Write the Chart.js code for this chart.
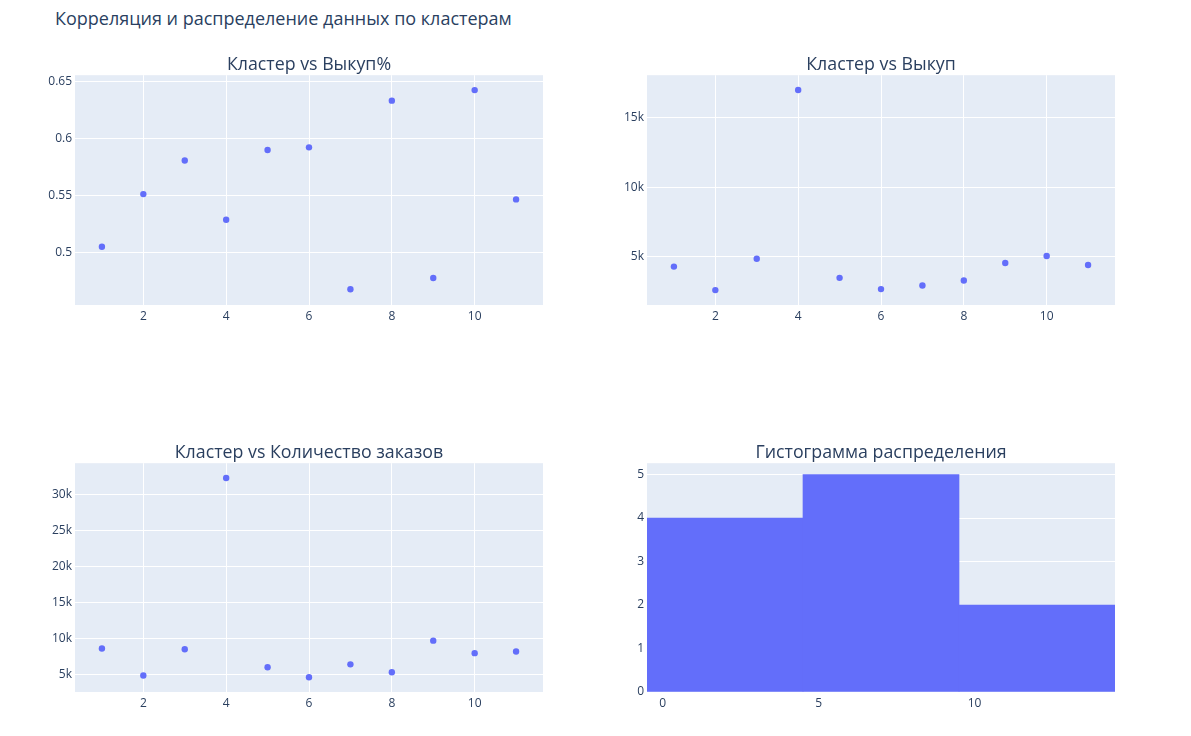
<!DOCTYPE html>
<html>
<head>
<meta charset="utf-8">
<script src="https://cdn.jsdelivr.net/npm/chart.js"></script>
<style>
  body { margin: 0; background: #fff; font-family: "Open Sans", sans-serif; }
  #page { position: relative; width: 1191px; height: 736px; overflow: hidden; }
  .titel { position: absolute; color: #2a3f5f; white-space: nowrap; line-height: 20px; }
  .haupt { left: 55px; top: 8px; font-size: 18px; }
  .sub { font-size: 17.8px; transform: translateX(-50%); }
  .box { position: absolute; }
</style>
</head>
<body>
<div id="page">
  <div class="titel haupt">Корреляция и распределение данных по кластерам</div>
</div>
<script>
// Daten
const cluster = [1, 2, 3, 4, 5, 6, 7, 8, 9, 10, 11];
const vykupProzent = [0.5055, 0.5514, 0.5807, 0.529, 0.5899, 0.5922, 0.4684, 0.633, 0.4782, 0.6422, 0.5468];
const vykup = [4286, 2595, 4857, 17000, 3476, 2667, 2929, 3286, 4548, 5048, 4405];
const zakazy = [8571, 4817, 8480, 32289, 5962, 4588, 6374, 5275, 9670, 7930, 8159];
const histKanten = [-0.5, 4.5, 9.5, 14.5];
const histAnzahl = [4, 5, 2];

// Achsenbeschriftungen
const xTicksCluster = [2, 4, 6, 8, 10];
const xTicksHist = [0, 5, 10];
const yTicksProzent = [0.5, 0.55, 0.6, 0.65];
const yTicksVykup = [5000, 10000, 15000];
const yTicksZakazy = [5000, 10000, 15000, 20000, 25000, 30000];
const yTicksHist = [0, 1, 2, 3, 4, 5];

const titel = ["Кластер vs Выкуп%", "Кластер vs Выкуп", "Кластер vs Количество заказов", "Гистограмма распределения"];

const FARBE = "#636efa";
const TEXT = "#2a3f5f";
Chart.defaults.font.family = '"Open Sans", sans-serif';
Chart.defaults.font.size = 12;
Chart.defaults.color = TEXT;
Chart.defaults.animation = false;

const hintergrund = {
  id: "hintergrund",
  beforeDraw(chart) {
    const { ctx, chartArea: a } = chart;
    ctx.save();
    ctx.fillStyle = "#E5ECF6";
    ctx.fillRect(a.left, a.top, a.width, a.height);
    ctx.restore();
  }
};

// Plotflaechen: links, oben, rechts, unten
const flaechen = [
  [75, 73, 543, 305],
  [647, 73, 1115, 305],
  [75, 461, 543, 692],
  [647, 461, 1115, 692]
];

const page = document.getElementById("page");

function kasten(i) {
  const [l, t, r, b] = flaechen[i];
  const div = document.createElement("div");
  div.className = "box";
  div.style.left = (l - 70) + "px";
  div.style.top = (t - 8) + "px";
  div.style.width = (r - l + 82) + "px";
  div.style.height = (b - t + 38) + "px";
  const cv = document.createElement("canvas");
  div.appendChild(cv);
  page.appendChild(div);

  const tt = document.createElement("div");
  tt.className = "titel sub";
  tt.textContent = titel[i];
  tt.style.left = ((l + r) / 2) + "px";
  tt.style.top = (t - 20) + "px";
  page.appendChild(tt);
  return cv;
}

function kFormat(v) { return (v / 1000) + "k"; }

function achsen(xMin, xMax, xTicks, yMin, yMax, yTicks, yFmt, xGrid) {
  return {
    x: {
      type: "linear", min: xMin, max: xMax, offset: false,
      grid: { color: "#fff", lineWidth: 1, drawTicks: false, display: xGrid, offset: false },
      border: { display: false },
      ticks: { padding: 4, maxRotation: 0, autoSkip: false },
      afterBuildTicks(s) { s.ticks = xTicks.map(v => ({ value: v })); },
      afterFit(s) { s.height = 30; }
    },
    y: {
      min: yMin, max: yMax,
      grid: { color: "#fff", lineWidth: 1, drawTicks: false },
      border: { display: false },
      ticks: { padding: 3, autoSkip: false, callback: yFmt },
      afterBuildTicks(s) { s.ticks = yTicks.map(v => ({ value: v })); },
      afterFit(s) { s.width = 70; }
    }
  };
}

function streuung(i, werte, yMin, yMax, yTicks, yFmt) {
  new Chart(kasten(i), {
    type: "scatter",
    data: {
      datasets: [{
        data: cluster.map((c, k) => ({ x: c, y: werte[k] })),
        backgroundColor: FARBE,
        borderWidth: 0,
        pointRadius: 3.2,
        pointHoverRadius: 3.2
      }]
    },
    options: {
      responsive: true,
      maintainAspectRatio: false,
      layout: { padding: { left: 0, top: 8, right: 12, bottom: 0 } },
      plugins: { legend: { display: false }, tooltip: { enabled: false } },
      scales: achsen(0.35, 11.65, xTicksCluster, yMin, yMax, yTicks, yFmt, true)
    },
    plugins: [hintergrund]
  });
}

streuung(0, vykupProzent, 0.4546, 0.6552, yTicksProzent, v => String(parseFloat(v.toFixed(2))));
streuung(1, vykup, 1521, 18071, yTicksVykup, kFormat);
streuung(2, zakazy, 2527, 34350, yTicksZakazy, kFormat);

// Histogramm
const mitten = histAnzahl.map((_, k) => (histKanten[k] + histKanten[k + 1]) / 2);
new Chart(kasten(3), {
  type: "bar",
  data: {
    datasets: [{
      data: histAnzahl.map((n, k) => ({ x: mitten[k], y: n })),
      backgroundColor: FARBE,
      borderWidth: 0,
      barPercentage: 1,
      categoryPercentage: 1
    }]
  },
  options: {
    responsive: true,
    maintainAspectRatio: false,
    layout: { padding: { left: 0, top: 8, right: 12, bottom: 0 } },
    plugins: { legend: { display: false }, tooltip: { enabled: false } },
    scales: achsen(histKanten[0], histKanten[histKanten.length - 1], xTicksHist, 0, 5.26, yTicksHist, v => String(v), false)
  },
  plugins: [hintergrund]
});
</script>
</body>
</html>
